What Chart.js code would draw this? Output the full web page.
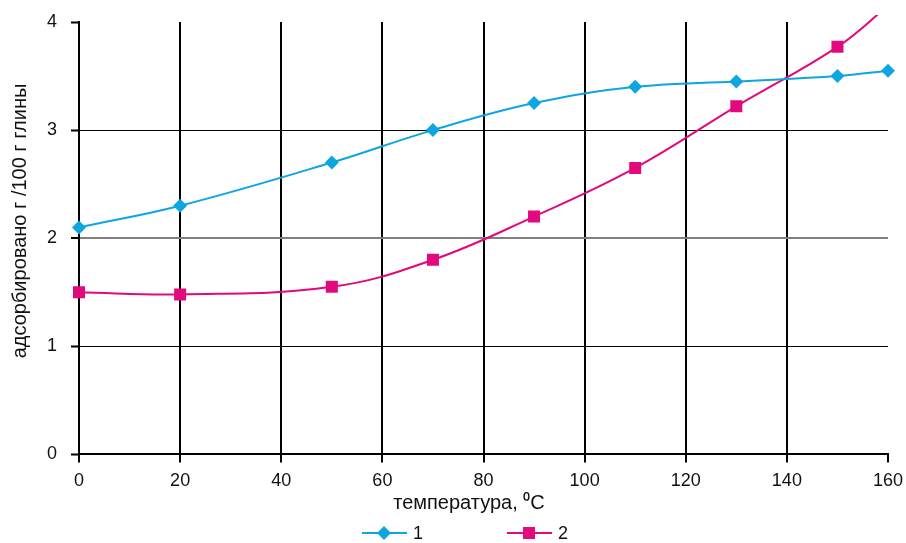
<!DOCTYPE html>
<html>
<head>
<meta charset="utf-8">
<script src="https://cdn.jsdelivr.net/npm/chart.js@4"></script>
<style>
  html, body { margin: 0; padding: 0; background: #fff; }
  #wrap { width: 906px; height: 543px; position: relative; }
</style>
</head>
<body>
<div id="wrap"><canvas id="myChart"></canvas></div>
<script>
// температура, °C
const temps1 = [0, 20, 50, 70, 90, 110, 130, 150, 160];
const values1 = [2.1, 2.3, 2.7, 3.0, 3.25, 3.4, 3.45, 3.5, 3.55];
const temps2 = [0, 20, 50, 70, 90, 110, 130, 150, 160];
const values2 = [1.5, 1.48, 1.55, 1.8, 2.2, 2.65, 3.22, 3.77, 4.15];
const seriesNames = ['1', '2'];
const xTicks = [0, 20, 40, 60, 80, 100, 120, 140, 160];
const yTicks = [0, 1, 2, 3, 4];
const xTitle = 'температура, ⁰C';
const yTitle = 'адсорбировано г /100 г глины';

const blue = '#0ea5e0';
const pink = '#e2097c';
const font = 'Arial, "Liberation Sans", sans-serif';

function toPoints(xs, ys) {
    return xs.map((x, i) => ({ x: x, y: ys[i] }));
}

// axis titles and legend (line + marker) drawn by hand, the original has them off-centre
const extras = {
    id: 'extras',
    afterDraw(chart) {
        const ctx = chart.ctx;
        ctx.save();
        ctx.fillStyle = '#111';
        ctx.font = '20px ' + font;
        ctx.textAlign = 'center';
        ctx.textBaseline = 'middle';
        ctx.fillText(xTitle, 469, 503);

        ctx.save();
        ctx.translate(20, 221);
        ctx.rotate(-Math.PI / 2);
        ctx.fillText(yTitle, 0, 0);
        ctx.restore();

        const starts = [362, 507];
        const y = 533;
        chart.data.datasets.forEach((ds, i) => {
            const x0 = starts[i];
            const cx = x0 + 22;
            ctx.strokeStyle = ds.borderColor;
            ctx.lineWidth = 2;
            ctx.beginPath();
            ctx.moveTo(x0, y);
            ctx.lineTo(x0 + 45, y);
            ctx.stroke();
            ctx.fillStyle = ds.pointBackgroundColor;
            ctx.beginPath();
            if (ds.pointStyle === 'rectRot') {
                const r = ds.pointRadius;
                ctx.moveTo(cx - r, y);
                ctx.lineTo(cx, y - r);
                ctx.lineTo(cx + r, y);
                ctx.lineTo(cx, y + r);
            } else {
                const s = ds.pointRadius * Math.SQRT1_2;
                ctx.rect(cx - s, y - s, 2 * s, 2 * s);
            }
            ctx.closePath();
            ctx.fill();
            ctx.fillStyle = '#111';
            ctx.font = '18px ' + font;
            ctx.textAlign = 'left';
            ctx.fillText(ds.label, x0 + 51, y + 1);
        });
        ctx.restore();
    }
};

// stop tick labels from pushing the plot area around
function noEdgePadding(axis) {
    axis.paddingLeft = 0;
    axis.paddingRight = 0;
    axis.paddingTop = 0;
    axis.paddingBottom = 0;
}

const ctx = document.getElementById('myChart').getContext('2d');
new Chart(ctx, {
    type: 'line',
    data: {
        datasets: [{
            label: seriesNames[0],
            data: toPoints(temps1, values1),
            borderColor: blue,
            backgroundColor: blue,
            pointBackgroundColor: blue,
            pointBorderWidth: 0,
            pointStyle: 'rectRot',
            pointRadius: 7,
            borderWidth: 2,
            tension: 0.4,
            clip: { left: 10, top: 7, right: 10, bottom: 10 }
        }, {
            label: seriesNames[1],
            data: toPoints(temps2, values2),
            borderColor: pink,
            backgroundColor: pink,
            pointBackgroundColor: pink,
            pointBorderWidth: 0,
            pointStyle: 'rect',
            pointRadius: 8.5,
            borderWidth: 2,
            tension: 0.4,
            clip: { left: 10, top: 7, right: 10, bottom: 10 }
        }]
    },
    options: {
        responsive: true,
        maintainAspectRatio: false,
        animation: false,
        devicePixelRatio: 1,
        layout: { padding: { top: 22, right: 18, left: 33, bottom: 43 } },
        plugins: {
            legend: { display: false },
            tooltip: { enabled: false }
        },
        scales: {
            x: {
                type: 'linear',
                min: 0,
                max: 160,
                afterBuildTicks: axis => { axis.ticks = xTicks.map(v => ({ value: v })); },
                afterFit: noEdgePadding,
                border: { display: true, color: '#000', width: 2 },
                grid: {
                    color: c => (c.tick && (c.tick.value === 0 || c.tick.value === 160)) ? 'rgba(0,0,0,0)' : '#000',
                    lineWidth: 2,
                    tickColor: '#000',
                    tickLength: 8,
                    tickWidth: 2
                },
                ticks: {
                    color: '#111',
                    font: { family: font, size: 18 },
                    padding: 8,
                    maxRotation: 0
                }
            },
            y: {
                min: 0,
                max: 4,
                afterBuildTicks: axis => { axis.ticks = yTicks.map(v => ({ value: v })); },
                afterFit: noEdgePadding,
                border: { display: true, color: '#000', width: 2 },
                grid: {
                    color: c => {
                        const v = c.tick ? c.tick.value : null;
                        if (v === 0 || v === 4) return 'rgba(0,0,0,0)';
                        if (v === 2) return '#808080';
                        return '#000';
                    },
                    lineWidth: c => (c.tick && c.tick.value === 2) ? 2 : 1,
                    tickColor: '#000',
                    tickLength: 8,
                    tickWidth: 2
                },
                ticks: {
                    color: '#111',
                    font: { family: font, size: 18 },
                    padding: 14
                }
            }
        }
    },
    plugins: [extras]
});
</script>
</body>
</html>
